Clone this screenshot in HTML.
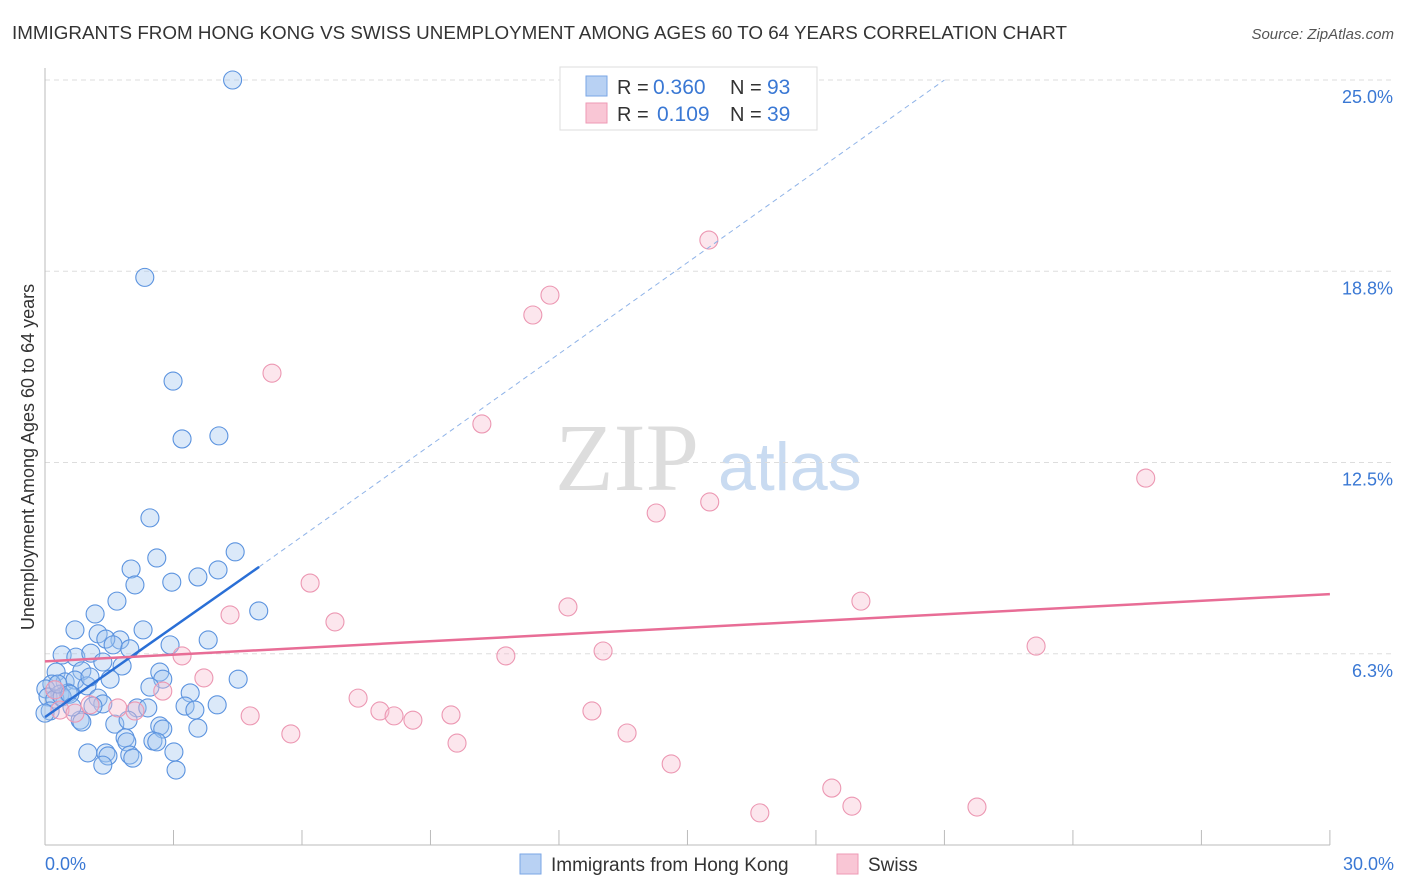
<!DOCTYPE html>
<html><head><meta charset="utf-8"><style>
body{margin:0;background:#fff;font-family:"Liberation Sans",sans-serif;}
svg{display:block}
</style></head><body>
<svg id="chart" width="1406" height="892" xmlns="http://www.w3.org/2000/svg" font-family="Liberation Sans, sans-serif">
<text x="12" y="39" font-size="18" fill="#333" textLength="1055" lengthAdjust="spacingAndGlyphs">IMMIGRANTS FROM HONG KONG VS SWISS UNEMPLOYMENT AMONG AGES 60 TO 64 YEARS CORRELATION CHART</text>
<text x="1394" y="39" font-size="15" fill="#555" text-anchor="end" font-style="italic">Source: ZipAtlas.com</text>
<text transform="translate(34,457) rotate(-90)" font-size="18" fill="#333" text-anchor="middle">Unemployment Among Ages 60 to 64 years</text>
<g><text x="555" y="490" font-size="96" fill="#ddd" font-family="Liberation Serif, serif">ZIP</text><text x="718" y="490" font-size="68" fill="#c9dbf1">atlas</text></g>
<g id="grid"></g><g id="axes"></g><g id="pts"></g><g id="lines"></g>
<g>
<rect x="560" y="67" width="257" height="63" fill="#fff" stroke="#ddd"/>
<rect x="586" y="76" width="21" height="20" fill="#b8d1f3" stroke="#7aa6e6"/>
<rect x="586" y="103" width="21" height="20" fill="#f9c6d5" stroke="#ee9ab5"/>
<text x="617" y="94" font-size="20" fill="#333">R =</text>
<text x="653" y="94" font-size="21" fill="#3a78d4">0.360</text>
<text x="730" y="94" font-size="20" fill="#333">N =</text>
<text x="767" y="94" font-size="21" fill="#3a78d4">93</text>
<text x="617" y="121" font-size="20" fill="#333">R =</text>
<text x="657" y="121" font-size="21" fill="#3a78d4">0.109</text>
<text x="730" y="121" font-size="20" fill="#333">N =</text>
<text x="767" y="121" font-size="21" fill="#3a78d4">39</text>
</g>
<g>
<rect x="520" y="854" width="21" height="20" fill="#b8d1f3" stroke="#7aa6e6"/>
<text x="551" y="871" font-size="19" fill="#333">Immigrants from Hong Kong</text>
<rect x="837" y="854" width="21" height="20" fill="#f9c6d5" stroke="#ee9ab5"/>
<text x="868" y="871" font-size="19" fill="#333">Swiss</text>
</g>
</svg>
<script>
const yTicks=[6.25,12.5,18.75,25];
const yTickLabels=["6.3%","12.5%","18.8%","25.0%"];
const xTickLabels=["0.0%","30.0%"];
const blueX=[4.38,2.33,2.99,3.20,4.06,2.45,2.61,4.44,2.01,2.10,2.96,3.57,4.04,1.68,1.17,4.99,0.70,1.24,2.29,3.81,1.75,1.42,1.59,2.92,0.40,0.72,1.07,1.98,1.35,1.80,2.68,4.51,0.26,0.86,0.47,0.70,1.52,2.75,0.16,0.02,0.98,2.45,3.39,0.35,0.54,0.07,0.23,0.40,1.24,1.35,1.12,2.15,3.27,3.50,2.40,4.02,0.82,0.86,1.63,1.94,2.68,2.75,3.57,1.87,2.52,1.91,2.61,1.00,1.42,1.47,1.98,2.05,3.01,1.35,3.06,0.12,0.30,0.0,0.58,0.63,1.05];
const blueY=[25.0,18.55,15.16,13.27,13.37,10.69,9.38,9.58,9.02,8.50,8.59,8.76,8.99,7.97,7.55,7.65,7.03,6.90,7.03,6.70,6.70,6.73,6.54,6.54,6.21,6.14,6.27,6.41,5.98,5.85,5.65,5.42,5.65,5.69,5.33,5.39,5.42,5.42,5.26,5.10,5.20,5.16,4.97,4.93,4.97,4.84,4.77,4.84,4.80,4.61,4.54,4.48,4.54,4.41,4.48,4.58,4.08,4.02,3.95,4.08,3.89,3.79,3.82,3.50,3.40,3.37,3.37,3.01,3.01,2.91,2.94,2.84,3.04,2.61,2.45,4.38,5.26,4.31,4.93,4.51,5.49];
const pinkX=[15.50,11.79,11.39,5.30,10.20,25.70,14.27,15.52,6.19,19.05,12.21,4.32,6.77,23.14,13.03,10.76,3.20,3.71,2.75,7.31,7.82,8.15,8.59,9.48,12.77,4.79,1.70,2.10,5.74,9.62,13.59,14.62,18.37,16.69,18.84,21.76,0.23,0.35,0.70,1.05];
const pinkY=[19.77,17.97,17.32,15.42,13.76,11.99,10.85,11.21,8.56,7.97,7.78,7.52,7.29,6.50,6.34,6.18,6.18,5.46,5.03,4.80,4.38,4.22,4.08,4.25,4.38,4.22,4.48,4.38,3.63,3.33,3.66,2.65,1.86,1.05,1.27,1.24,5.07,4.41,4.31,4.58];
const blueTrend=[[0,4.18],[5.0,9.09]], blueDash=[[5.0,9.09],[21.0,25.0]];
const pinkTrend=[[0,6.0],[30,8.2]];
const X=v=>45+v*42.83, Y=v=>845-v*30.6;
const NS="http://www.w3.org/2000/svg";
function mk(t,a,p){const e=document.createElementNS(NS,t);for(const k in a)e.setAttribute(k,a[k]);p.appendChild(e);return e;}
const grid=document.getElementById('grid'),axes=document.getElementById('axes'),pts=document.getElementById('pts'),lines=document.getElementById('lines');
yTicks.forEach((t,i)=>{
 const l=mk('line',{x1:45,x2:1394,y1:Y(t),y2:Y(t),stroke:'#ddd','stroke-dasharray':'5,4'},grid);
 
 
 const tx=mk('text',{x:1393,y:Y(t)+23,'font-size':18,fill:'#3a78d4','text-anchor':'end'},axes);
 tx.textContent=yTickLabels[i];
 
 
});
const ax=mk('line',{x1:45,x2:1330,y1:845,y2:845,stroke:'#bbb'},axes);


const ay=mk('line',{x1:45,x2:45,y1:68,y2:845,stroke:'#bbb'},axes);


for(let i=0;i<=10;i++){const tk=mk('line',{x1:X(i*3),x2:X(i*3),y1:830,y2:845,stroke:'#bbb'},axes);
 
 }
[[0,'start',45],[30,'end',1394]].forEach((d,i)=>{const t=mk('text',{x:d[2],y:870,'font-size':18,fill:'#3a78d4','text-anchor':d[1]},axes);t.textContent=xTickLabels[i];
 
 });
blueX.forEach((x,i)=>{const c=mk('circle',{cx:X(x),cy:Y(blueY[i]),r:9,fill:'rgba(160,196,240,0.38)',stroke:'#5b93df','stroke-width':1.1},pts);
 
 });
pinkX.forEach((x,i)=>{const c=mk('circle',{cx:X(x),cy:Y(pinkY[i]),r:9,fill:'rgba(248,190,208,0.38)',stroke:'#ec97b2','stroke-width':1.1},pts);
 
 });
const b=mk('line',{x1:X(blueTrend[0][0]),y1:Y(blueTrend[0][1]),x2:X(blueTrend[1][0]),y2:Y(blueTrend[1][1]),stroke:'#2a6fd6','stroke-width':2.5},lines);


const bd=mk('line',{x1:X(blueDash[0][0]),y1:Y(blueDash[0][1]),x2:X(blueDash[1][0]),y2:Y(blueDash[1][1]),stroke:'#8fb3e8','stroke-width':1,'stroke-dasharray':'5,4'},lines);


const p=mk('line',{x1:X(pinkTrend[0][0]),y1:Y(pinkTrend[0][1]),x2:X(pinkTrend[1][0]),y2:Y(pinkTrend[1][1]),stroke:'#e86d96','stroke-width':2.5},lines);


</script>
</body></html>
